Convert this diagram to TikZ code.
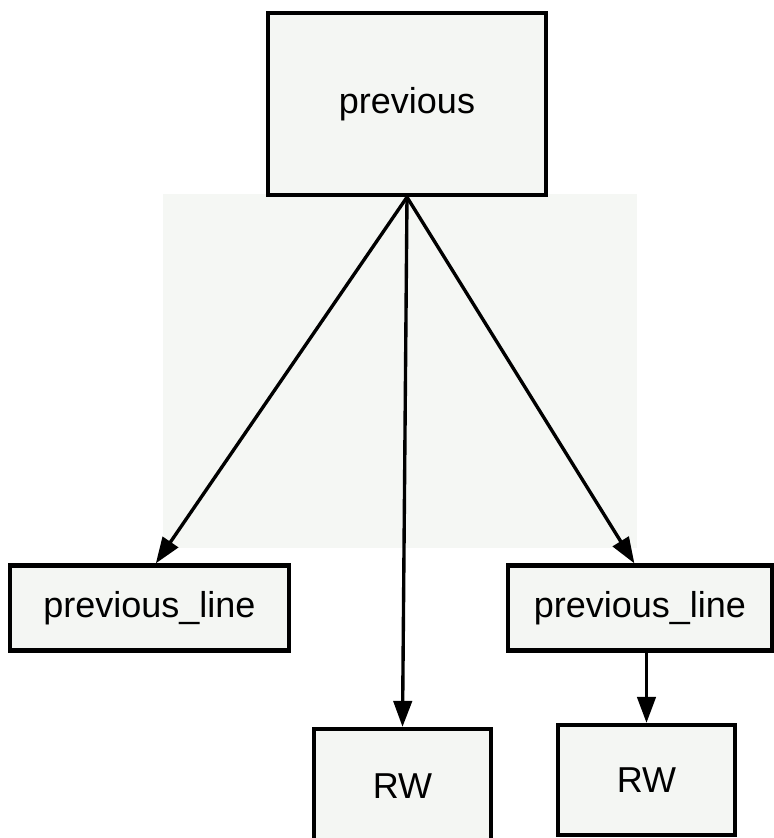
\documentclass[tikz,border=0pt]{standalone}
\usepackage{fontspec}
\setmainfont{Liberation Sans}
\usetikzlibrary{arrows.meta}
\definecolor{boxfill}{RGB}{244,246,243}
\definecolor{backfill}{RGB}{245,247,244}
\tikzset{
	blk/.style={draw=black, line width=3pt, fill=boxfill, inner sep=0pt, font=\fontsize{25.6}{30}\selectfont},
	link/.style={line width=2.4pt, -{Triangle[length=0.65cm, width=0.46cm]}}
}

\begin{document}
\begin{tikzpicture}[x=0.025cm, y=-0.025cm]
			%%%%% START %%%%%
			
			\useasboundingbox (0, 0) rectangle (774, 838);
			
			\fill[backfill] (163, 194) rectangle (637, 548);
			
			\node[blk, minimum width=6.95cm, minimum height=4.55cm] (prev) at (407, 104) {previous};
			
			\node[blk, minimum width=6.975cm, minimum height=2.125cm] (prevlineA) at (149.5, 608) {previous\_line};
			\node[blk, minimum width=6.6cm, minimum height=2.125cm] (prevlineB) at (640, 608) {previous\_line};
			
			\node[blk, minimum width=4.425cm, minimum height=2.85cm] (rwA) at (402.5, 786) {RW};
			\node[blk, minimum width=4.425cm, minimum height=2.75cm] (rwB) at (646.5, 780) {RW};
			
			\draw[link] (prev.south) -- ([xshift=4.5]prevlineA.north);
			\draw[link] (prev.south) -- (rwA.north);
			\draw[link] (prev.south) -- ([xshift=-4]prevlineB.north);
			\draw[link] (prevlineB.south -| rwB.north) -- (rwB.north);
			
			%%%%% END %%%%%
		\end{tikzpicture}
\end{document}
